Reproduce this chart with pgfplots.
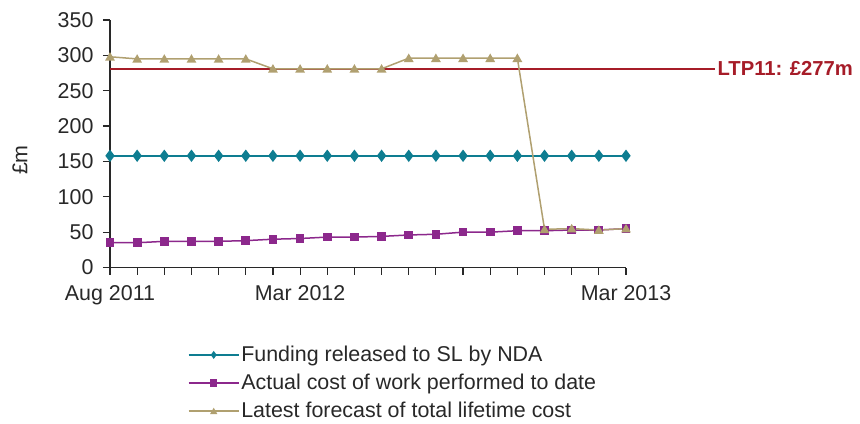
\documentclass[border=0pt]{standalone}
\usepackage{fontspec}
\setmainfont{Liberation Sans}
\usepackage{pgfplots}
\pgfplotsset{compat=1.18}
\definecolor{fundc}{RGB}{14,125,145}
\definecolor{actc}{RGB}{140,40,140}
\definecolor{lifec}{RGB}{176,160,112}
\definecolor{ltpc}{RGB}{166,28,40}
\definecolor{axc}{RGB}{40,40,40}
\begin{document}
\begin{tikzpicture}
\useasboundingbox (0,0) rectangle (860bp,424bp);
\begin{axis}[
  at={(110bp,156.5bp)}, anchor=south west,
  width=516bp, height=247.5bp, scale only axis,
  xmin=0, xmax=19, ymin=0, ymax=350,
  axis lines=left,
  axis line style={-, line width=1.2bp, color=axc},
  xtick={0,...,19},
  xticklabels={Aug 2011,,,,,,,Mar 2012,,,,,,,,,,,,Mar 2013},
  ytick={0,50,...,350},
  tick align=outside, major tick length=7bp,
  tick style={line width=1.2bp, color=axc},
  tick label style={font=\fontsize{21.5}{25}\selectfont, text=axc},
  xticklabel style={yshift=-8bp},
  yticklabel style={xshift=-6bp},
  /pgf/number format/assume math mode=true,
  clip=false,
  ylabel={£m},
  ylabel style={at={(axis description cs:-0.1744,0.434)}, anchor=center, font=\fontsize{21.5}{25}\selectfont, text=axc},
  legend style={at={(axis description cs:0.151,-0.31)}, anchor=north west, draw=none, fill=none,
    font=\fontsize{21.5}{25}\selectfont, text=axc, row sep=7bp, inner sep=0pt},
  legend cell align=left,
  legend image code/.code={\draw[line width=1.2bp, mark repeat=2,mark phase=2, mark size=3bp] plot coordinates {(0bp,0bp) (25bp,0bp) (50bp,0bp)};},
]
\addplot[ltpc, line width=2bp, forget plot] coordinates {(0,281) (22.28,281)}
  node[pos=1, anchor=west, inner sep=1.5bp, font=\fontsize{20.3}{24}\selectfont\bfseries, text=ltpc] {LTP11: £277m};
\addplot[fundc, line width=1.5bp, mark=diamond*, mark size=5bp, mark options={fill=fundc}] coordinates {
(0,158) (1,158) (2,158) (3,158) (4,158) (5,158) (6,158) (7,158) (8,158) (9,158)
(10,158) (11,158) (12,158) (13,158) (14,158) (15,158) (16,158) (17,158) (18,158) (19,158)};
\addlegendentry{Funding released to SL by NDA}
\addplot[actc, line width=1.5bp, mark=square*, mark size=3.6bp, mark options={fill=actc}] coordinates {
(0,35) (1,35) (2,37) (3,37) (4,37) (5,38) (6,40) (7,41) (8,43) (9,43)
(10,44) (11,46) (12,47) (13,50) (14,50) (15,52) (16,52) (17,53) (18,53) (19,55)};
\addlegendentry{Actual cost of work performed to date}
\addplot[lifec, line width=1.5bp, mark=triangle*, mark size=4.2bp, mark options={fill=lifec, yshift=-1bp}] coordinates {
(0,298) (1,295) (2,295) (3,295) (4,295) (5,295) (6,281) (7,281) (8,281) (9,281)
(10,281) (11,296) (12,296) (13,296) (14,296) (15,296) (16,54) (17,55) (18,53) (19,55)};
\addlegendentry{Latest forecast of total lifetime cost}
\end{axis}
\end{tikzpicture}
\end{document}
